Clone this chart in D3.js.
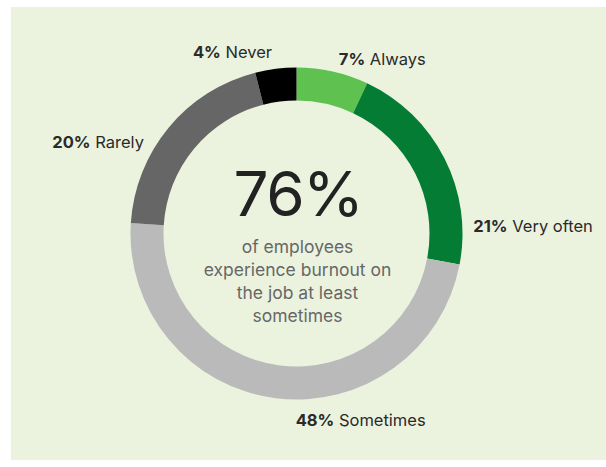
<!DOCTYPE html>
<html>
<head>
<meta charset="utf-8">
<script src="https://cdn.jsdelivr.net/npm/d3@7/dist/d3.min.js"></script>
<style>
  html, body { margin: 0; padding: 0; background: #ffffff; }
  svg { display: block; }
  text { font-family: Inter, "Noto Sans", Roboto, sans-serif; }
</style>
</head>
<body>
<svg id="chart" width="606" height="467"></svg>
<script>
// ---- data ----
const categories = ["Always", "Very often", "Sometimes", "Rarely", "Never"];
const values = [7, 21, 48, 20, 4];
const colors = ["#5fc150", "#047c34", "#bababa", "#666666", "#000000"];
const headline = "76%";
const subtitleLines = ["of employees", "experience burnout on", "the job at least", "sometimes"];

// ---- label layout (angle in degrees clockwise from top, radius, anchor) ----
const labelLayout = [
  { angle: 13.6, r: 180, anchor: "start" },
  { angle: 87.6, r: 177, anchor: "start" },
  { angle: 161, r: 197, anchor: "middle" },
  { angle: 301, r: 178, anchor: "end" },
  { angle: 352.3, r: 183, anchor: "end" }
];

const W = 606, H = 467;
const cx = 296.5, cy = 233.5;
const outerR = 166, innerR = 133;

const svg = d3.select("#chart");

svg.append("rect")
  .attr("x", 11).attr("y", 7)
  .attr("width", W - 11).attr("height", 453)
  .attr("fill", "#ebf3df");

const data = categories.map((c, i) => ({ cat: c, value: values[i], color: colors[i], layout: labelLayout[i] }));

const pie = d3.pie().value(d => d.value).sort(null);
const arc = d3.arc().innerRadius(innerR).outerRadius(outerR);

const g = svg.append("g").attr("transform", `translate(${cx},${cy})`);

g.selectAll("path.slice")
  .data(pie(data))
  .join("path")
  .attr("class", "slice")
  .attr("d", arc)
  .attr("fill", d => d.data.color);

// labels
const labels = g.selectAll("text.lbl")
  .data(data)
  .join("text")
  .attr("class", "lbl")
  .attr("x", d => d.layout.r * Math.sin(d.layout.angle * Math.PI / 180))
  .attr("y", d => -d.layout.r * Math.cos(d.layout.angle * Math.PI / 180))
  .attr("dy", "0.36em")
  .attr("text-anchor", d => d.layout.anchor)
  .attr("font-size", 16.5)
  .attr("fill", "#2a2a2a");

labels.append("tspan")
  .attr("font-weight", 700)
  .text(d => d.value + "%");
labels.append("tspan")
  .attr("font-weight", 400)
  .text(d => " " + d.cat);

// center text
g.append("text")
  .attr("x", 1.5)
  .attr("y", -18)
  .attr("text-anchor", "middle")
  .attr("font-size", 62)
  .attr("font-weight", 400)
  .attr("letter-spacing", -1.5)
  .attr("fill", "#222222")
  .text(headline);

g.selectAll("text.sub")
  .data(subtitleLines)
  .join("text")
  .attr("class", "sub")
  .attr("x", 1)
  .attr("y", (d, i) => 19.5 + i * 23)
  .attr("text-anchor", "middle")
  .attr("font-size", 17.5)
  .attr("fill", "#676767")
  .text(d => d);
</script>
</body>
</html>
